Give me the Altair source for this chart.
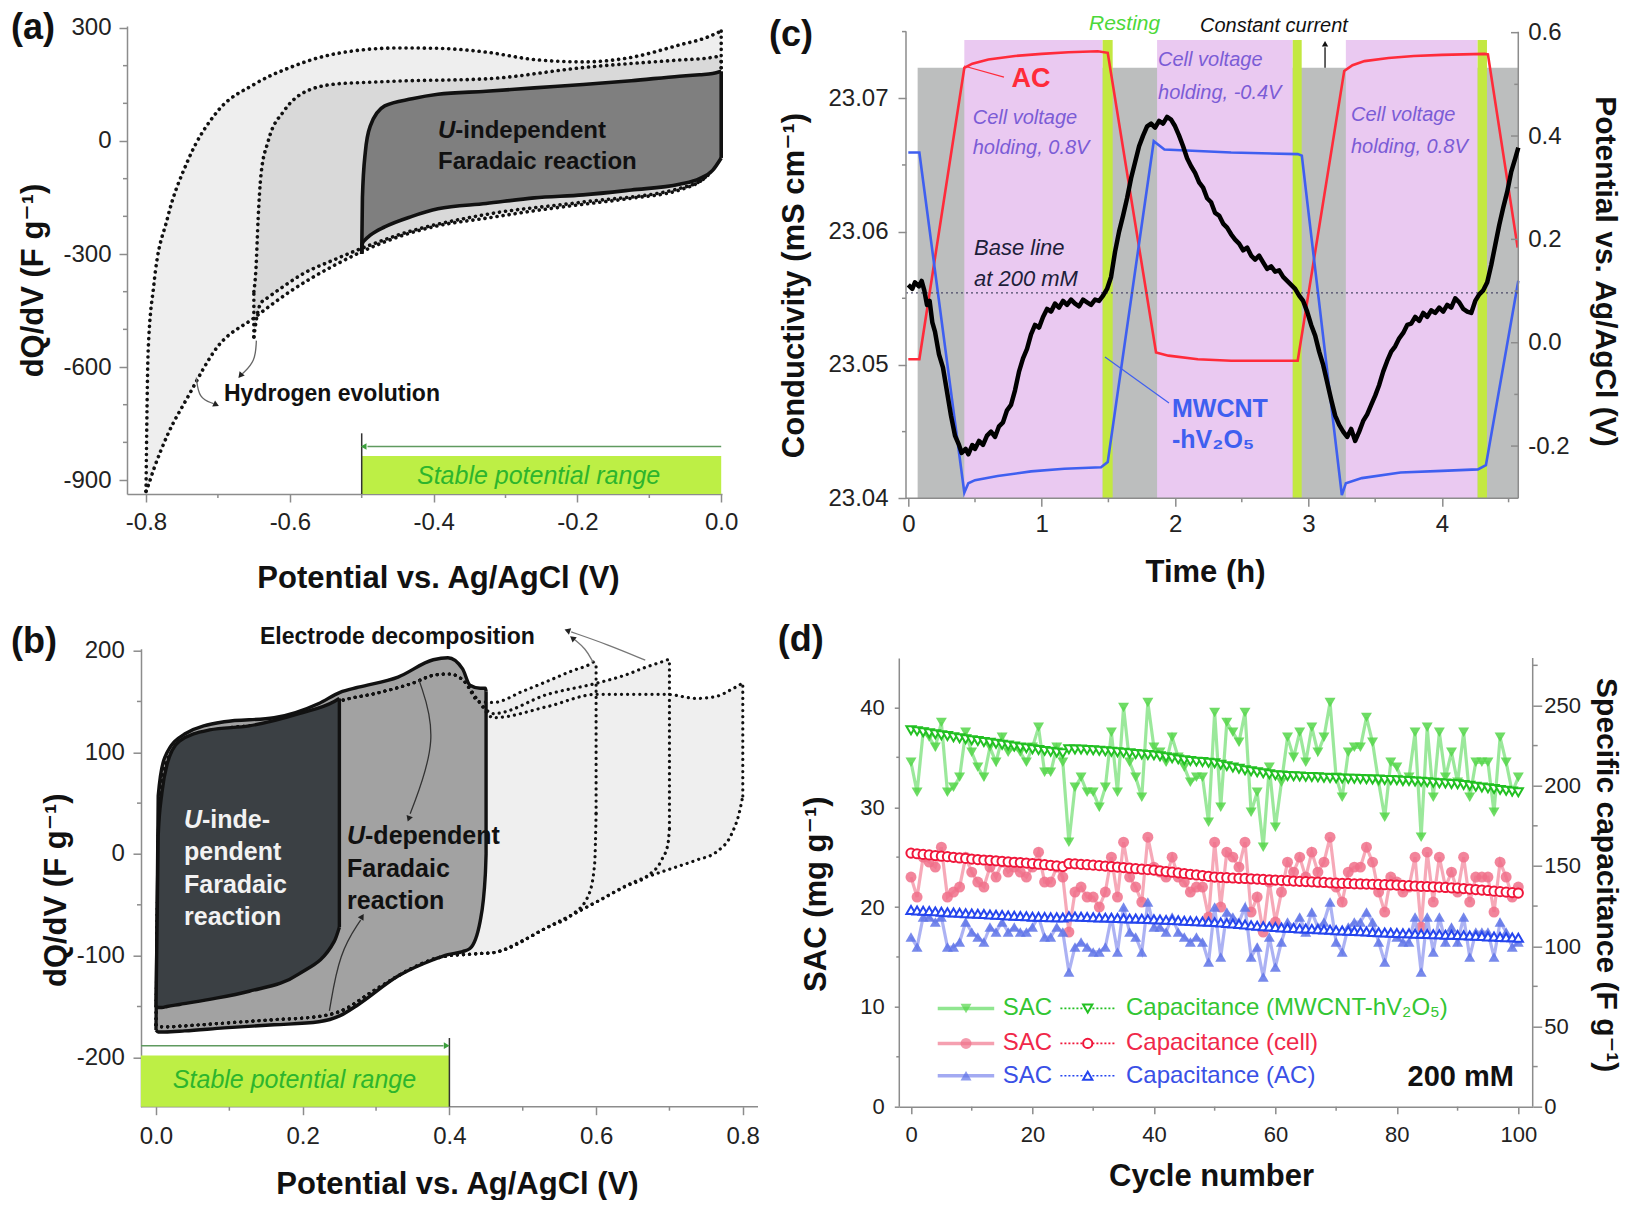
import altair as alt
import pandas as pd

FONT = "Liberation Sans, DejaVu Sans, sans-serif"
AXC = "#8c8c8c"

# ======================= data: panel (a) =======================
a1_x = [-0.800, -0.797, -0.789, -0.770, -0.742, -0.700, -0.650, -0.600, -0.538, -0.450, -0.394, -0.327, -0.259, -0.192, -0.125, -0.058, -0.020, 0.000]
a1_up = [-930, -557, -380, -204, -53, 80, 150, 195, 231, 247, 246, 236, 216, 210, 222, 255, 275, 292]
a1_lo = [-930, -915, -870, -780, -680, -545, -470, -400, -330, -255, -225, -205, -185, -168, -152, -130, -92, 0]

a2_x = [-0.650, -0.647, -0.644, -0.640, -0.630, -0.608, -0.584, -0.538, -0.500, -0.450, -0.327, -0.192, -0.058, -0.020, 0.000]
a2_up = [-400, -337, -204, -88, 0, 80, 125, 151, 155, 159, 165, 195, 215, 220, 226]
a2_lo = [-520, -480, -450, -430, -415, -385, -355, -315, -285, -250, -195, -162, -126, -94, 0]

a3_x = [-0.500, -0.499, -0.495, -0.488, -0.468, -0.430, -0.394, -0.327, -0.260, -0.192, -0.125, -0.058, -0.030, -0.012, 0.000]
a3_up = [-300, -150, -30, 40, 93, 112, 124, 132, 141, 150, 160, 172, 176, 179, 185]
a3_lo = [-300, -272, -262, -250, -228, -200, -180, -166, -151, -143, -130, -115, -100, -78, -45]

# ======================= data: panel (b) =======================
bL_x = [0.000, 0.005, 0.015, 0.040, 0.100, 0.160, 0.220, 0.250, 0.300, 0.350, 0.380, 0.400, 0.420, 0.440]
bL_up = [-168, 60, 92, 112, 124, 128, 140, 150, 158, 168, 176, 177, 170, 150]
bL_lo = [-168, -170, -170, -169, -166, -163, -160, -155, -133, -112, -103, -100, -99, -98]

b6_x = [0.460, 0.500, 0.534, 0.567, 0.590, 0.598, 0.600]
b6_up = [149, 160, 170, 180, 186, 189, 189]
b6_lo = [-97, -85, -72, -60, -40, -10, 40]

b7_x = [0.460, 0.534, 0.601, 0.640, 0.669, 0.690, 0.698, 0.700]
b7_up = [138, 157, 168, 176, 184, 189, 191, 191]
b7_lo = [-97, -72, -47, -32, -22, -5, 10, 25]

b8_x = [0.460, 0.534, 0.601, 0.650, 0.696, 0.737, 0.764, 0.785, 0.795, 0.800]
b8_up = [134, 145, 157, 157, 157, 153, 155, 162, 166, 168]
b8_lo = [-97, -72, -47, -28, -16, -6, 2, 20, 40, 57]

bm_x = [0.000, 0.003, 0.012, 0.039, 0.093, 0.161, 0.222, 0.251, 0.276, 0.330, 0.378, 0.398, 0.418, 0.428, 0.442, 0.449, 0.450]
bm_up = [-173, 57, 95, 118, 130, 134, 148, 159, 164, 174, 191, 193, 182, 166, 163, 163, 160]
bm_lo = [-173, -175, -175, -174, -171, -168, -165, -159, -148, -120, -104, -99, -96, -93, -66, -20, 0]

bd_x = [0.000, 0.003, 0.008, 0.015, 0.032, 0.073, 0.127, 0.195, 0.243, 0.250]
bd_up = [-150, 18, 60, 88, 111, 122, 126, 138, 150, 153]
bd_lo = [-150, -151, -151, -150, -148, -143, -135, -118, -86, -72]

# ======================= data: panel (c) =======================
c_black_t = [0.00, 0.03, 0.05, 0.08, 0.10, 0.12, 0.14, 0.16, 0.18, 0.20, 0.23, 0.26, 0.29, 0.32, 0.35, 0.38, 0.40, 0.43, 0.45, 0.48,
             0.50, 0.53, 0.56, 0.59, 0.62, 0.65, 0.68, 0.71, 0.74, 0.77, 0.80, 0.83, 0.86, 0.89, 0.92, 0.95, 0.98, 1.01, 1.04, 1.07,
             1.10, 1.13, 1.16, 1.19, 1.22, 1.25, 1.28, 1.31, 1.34, 1.37, 1.40, 1.43, 1.46, 1.49, 1.52, 1.55, 1.58, 1.61, 1.64, 1.67,
             1.70, 1.73, 1.76, 1.79, 1.82, 1.85, 1.88, 1.91, 1.94, 1.97, 2.00, 2.03, 2.06, 2.09, 2.12, 2.15, 2.18, 2.21, 2.24, 2.27,
             2.30, 2.33, 2.36, 2.39, 2.42, 2.45, 2.48, 2.51, 2.54, 2.57, 2.60, 2.63, 2.66, 2.69, 2.72, 2.75, 2.78, 2.81, 2.84, 2.87,
             2.90, 2.93, 2.96, 2.99, 3.02, 3.05, 3.08, 3.11, 3.14, 3.17, 3.20, 3.23, 3.26, 3.29, 3.32, 3.35, 3.38, 3.41, 3.44, 3.47,
             3.50, 3.53, 3.56, 3.59, 3.62, 3.65, 3.68, 3.71, 3.74, 3.77, 3.80, 3.83, 3.86, 3.89, 3.92, 3.95, 3.98, 4.01, 4.04, 4.07,
             4.10, 4.13, 4.16, 4.19, 4.22, 4.25, 4.28, 4.31, 4.34, 4.37, 4.40, 4.43, 4.46, 4.49, 4.52, 4.55, 4.573]
c_black_k = [23.0560, 23.0557, 23.0562, 23.0559, 23.0563, 23.0556, 23.0545, 23.0548, 23.0532, 23.0525, 23.0508, 23.0498, 23.0480, 23.0462, 23.0447, 23.0440, 23.0434, 23.0437, 23.0433, 23.0440,
             23.0437, 23.0443, 23.0440, 23.0447, 23.0450, 23.0446, 23.0454, 23.0457, 23.0466, 23.0470, 23.0481, 23.0495, 23.0505, 23.0512, 23.0523, 23.0530, 23.0528, 23.0536, 23.0542, 23.0540,
             23.0546, 23.0543, 23.0548, 23.0545, 23.0549, 23.0546, 23.0544, 23.0549, 23.0547, 23.0545, 23.0549, 23.0548, 23.0552, 23.0557, 23.0566, 23.0585, 23.0600, 23.0612, 23.0625, 23.0640,
             23.0652, 23.0664, 23.0672, 23.0679, 23.0681, 23.0678, 23.0683, 23.0681, 23.0686, 23.0684, 23.0679, 23.0672, 23.0664, 23.0655, 23.0649, 23.0644, 23.0637, 23.0633, 23.0625, 23.0622,
             23.0614, 23.0612, 23.0606, 23.0603, 23.0598, 23.0594, 23.0591, 23.0586, 23.0588, 23.0582, 23.0579, 23.0582, 23.0577, 23.0572, 23.0574, 23.0570, 23.0571, 23.0566, 23.0563, 23.0560,
             23.0557, 23.0552, 23.0548, 23.0540, 23.0530, 23.0522, 23.0510, 23.0500, 23.0487, 23.0474, 23.0462, 23.0455, 23.0450, 23.0446, 23.0452, 23.0443, 23.0450, 23.0458, 23.0463, 23.0470,
             23.0477, 23.0485, 23.0495, 23.0503, 23.0510, 23.0514, 23.0520, 23.0524, 23.0530, 23.0531, 23.0536, 23.0533, 23.0539, 23.0536, 23.0541, 23.0539, 23.0543, 23.0540, 23.0545, 23.0543,
             23.0550, 23.0547, 23.0542, 23.0540, 23.0539, 23.0548, 23.0553, 23.0556, 23.0562, 23.0575, 23.0590, 23.0605, 23.0618, 23.0630, 23.0645, 23.0655, 23.0663]

c_red_t = [0.000, 0.083, 0.420, 0.480, 0.600, 0.800, 1.000, 1.200, 1.420, 1.495, 1.857, 1.950, 2.170, 2.420, 2.919, 3.268, 3.330, 3.420, 3.600, 3.790, 4.000, 4.320, 4.345, 4.568]
c_red_v = [-0.032, -0.032, 0.532, 0.540, 0.548, 0.555, 0.559, 0.562, 0.564, 0.561, -0.019, -0.025, -0.032, -0.035, -0.035, 0.526, 0.537, 0.545, 0.551, 0.555, 0.557, 0.559, 0.558, 0.184]

c_blue_t = [0.000, 0.083, 0.420, 0.450, 0.500, 0.670, 0.920, 1.170, 1.445, 1.495, 1.840, 1.920, 2.170, 2.420, 2.920, 2.950, 3.250, 3.280, 3.400, 3.690, 4.000, 4.270, 4.330, 4.573]
c_blue_v = [0.368, 0.368, -0.290, -0.272, -0.266, -0.258, -0.249, -0.244, -0.241, -0.231, 0.390, 0.374, 0.371, 0.368, 0.365, 0.362, -0.295, -0.272, -0.262, -0.251, -0.248, -0.245, -0.237, 0.120]

c_current_start = 0.07
c_hold_start = [0.420, 1.865, 3.280]
c_hold_end = [1.457, 2.882, 4.268]
c_rest_end = [1.532, 2.949, 4.338]
c_baseline = 23.0554

# ======================= data: panel (d) =======================
cycles = list(range(101))
sac_green = [34.5, 31.5, 37.5, 37, 36, 38.5, 31.5, 32, 33, 37.5,
             35.5, 34, 33, 36, 34.5, 37, 35.5, 36, 35.5, 34.5,
             36, 38, 33.5, 33.5, 36, 34.5, 26.5, 32, 33, 31.5,
             31.5, 30, 32, 37.5, 31.5, 40, 34.5, 33, 31, 40.5,
             36, 35.5, 34.5, 37, 35, 34, 32.5, 33, 33, 28.5,
             39.5, 30, 38.5, 37.5, 36.5, 39.5, 29.5, 31.5, 26, 34,
             28, 32.5, 37, 35, 37.5, 34.5, 38, 35.5, 37, 40.5,
             33, 31, 35.5, 36, 36, 39, 36.5, 32.5, 29, 34.5,
             34, 32.5, 33, 37.5, 27, 38, 31, 37.5, 33, 35.5,
             32.5, 37.5, 31, 34.5, 34.5, 34.5, 29.5, 37, 34.5, 31.5, 33]
sac_red = [23, 21, 25, 24.5, 24, 26, 21, 21.5, 22, 25,
           23.5, 22.5, 22, 24, 23, 24.5, 23.5, 24, 23.5, 23,
           24, 25.5, 22.5, 22.5, 24, 23, 17.5, 21.5, 22, 21,
           21, 20, 21.5, 25, 21, 26.5, 23, 22, 20.5, 27,
           24, 23.5, 23, 25, 23, 22.5, 21.5, 22, 22, 19,
           26.5, 20, 25.5, 25, 24, 26.5, 19.5, 21, 17.5, 22.5,
           18.5, 21.5, 24.5, 23.5, 25, 23, 25.5, 23.5, 24.5, 27,
           22, 20.5, 23.5, 24, 24, 26, 24.5, 21.5, 19.5, 23,
           22.5, 21.5, 22, 25, 18, 25.5, 20.5, 25, 22, 23.5,
           21.5, 25, 20.5, 23, 23, 23, 19.5, 24.5, 23, 21, 22]
sac_blue = [17, 16, 19, 19, 18.5, 19, 16, 16, 16.5, 18.5,
            17.5, 17, 16.5, 18, 17.5, 18.5, 17.5, 18, 17.5, 17.5,
            18, 19, 17, 17, 18, 17.5, 13.5, 16, 16.5, 16,
            15.5, 15.5, 16, 19, 15.5, 20, 17.5, 17, 15.5, 20.5,
            18, 18, 17.5, 19, 17.5, 17, 16.5, 17, 16.5, 14.5,
            20, 15, 19.5, 19, 18.5, 20, 15, 16, 13, 17,
            14, 16.5, 18.5, 18, 19, 17.5, 19.5, 18, 18.5, 20.5,
            16.5, 15.5, 18, 18.5, 18.5, 19.5, 18.5, 16.5, 14.5, 17.5,
            17, 16.5, 16.5, 19, 13.5, 19, 15.5, 19, 16.5, 18,
            16.5, 19, 15, 17.5, 17.5, 17.5, 15, 18.5, 17.5, 16, 16.5]
cap_green = [234.5, 234.0, 233.3, 232.7, 232.1, 231.5, 230.9, 230.2, 229.6, 229.0,
             228.3, 227.8, 227.2, 226.7, 226.1, 225.5, 225.0, 224.4, 223.8, 223.3,
             222.7, 222.2, 221.7, 221.2, 220.7, 220.2, 222.7, 222.6, 222.5, 222.3,
             222.1, 221.8, 221.5, 221.1, 220.8, 220.5, 220.2, 219.8, 219.5, 219.2,
             218.9, 218.3, 217.7, 217.1, 216.4, 215.8, 215.4, 215.0, 214.7, 214.3,
             214.0, 213.1, 212.2, 211.4, 210.5, 209.6, 209.0, 208.4, 207.7, 207.1,
             206.5, 206.3, 206.1, 205.9, 205.7, 205.5, 205.4, 205.2, 205.0, 204.8,
             204.6, 204.5, 204.4, 204.3, 204.2, 204.0, 203.9, 203.8, 203.6, 203.5,
             203.4, 203.1, 202.9, 202.6, 202.4, 202.1, 201.9, 201.6, 201.4, 201.1,
             200.9, 200.4, 199.9, 199.4, 198.9, 198.4, 197.9, 197.4, 196.9, 196.4, 195.9]
cap_red = [158.0, 157.6, 157.2, 156.9, 156.5, 156.1, 155.8, 155.4, 155.0, 154.7,
           154.3, 154.0, 153.7, 153.5, 153.2, 152.9, 152.6, 152.3, 152.1, 151.8,
           151.5, 151.1, 150.8, 150.4, 150.0, 149.6, 151.5, 151.3, 151.0, 150.8,
           150.5, 150.2, 149.9, 149.6, 149.3, 149.0, 148.6, 148.3, 148.0, 147.7,
           147.4, 147.0, 146.5, 146.1, 145.7, 145.3, 144.8, 144.4, 144.0, 143.5,
           143.1, 142.9, 142.7, 142.5, 142.3, 142.2, 142.0, 141.8, 141.6, 141.4,
           141.2, 141.0, 140.8, 140.6, 140.4, 140.3, 140.1, 139.9, 139.7, 139.5,
           139.3, 139.2, 139.1, 138.9, 138.8, 138.7, 138.6, 138.5, 138.3, 138.2,
           138.1, 137.9, 137.7, 137.5, 137.3, 137.2, 137.0, 136.8, 136.6, 136.4,
           136.2, 135.9, 135.6, 135.3, 135.0, 134.7, 134.3, 134.0, 133.7, 133.4, 133.1]
cap_blue = [122.5, 122.3, 122.1, 121.9, 121.7, 121.5, 121.2, 121.0, 120.8, 120.6,
            120.4, 120.2, 120.0, 119.8, 119.6, 119.4, 119.2, 119.0, 118.8, 118.6,
            118.4, 118.3, 118.2, 118.1, 118.0, 117.9, 118.6, 118.5, 118.3, 118.2,
            118.0, 117.9, 117.8, 117.7, 117.6, 117.4, 117.3, 117.2, 117.1, 116.9,
            116.8, 116.6, 116.4, 116.3, 116.1, 115.9, 115.7, 115.5, 115.4, 115.2,
            115.0, 114.7, 114.4, 114.1, 113.8, 113.5, 113.1, 112.8, 112.5, 112.2,
            111.9, 111.7, 111.5, 111.3, 111.1, 111.0, 110.8, 110.6, 110.4, 110.2,
            110.0, 109.8, 109.6, 109.5, 109.3, 109.1, 108.9, 108.7, 108.6, 108.4,
            108.2, 108.1, 108.0, 107.8, 107.7, 107.6, 107.5, 107.4, 107.2, 107.1,
            107.0, 106.8, 106.6, 106.5, 106.3, 106.1, 106.0, 105.8, 105.6, 105.5, 105.3]


# ======================= helpers =======================
def sc(d):
    return alt.Scale(domain=d, nice=False, zero=False)


def mk_axis(values, fmt, title, tx, ty, tangle=0, orient=None, offset=0,
            tsize_tick=8, lpad=8, lsize=24, tsize=31, domain=True, ticks=True):
    kw = dict(values=values, format=fmt, labelExpr="replace(datum.label, '\u2212', '-')",
              labelFont=FONT, labelFontSize=lsize,
              labelColor="#222222", labelPadding=lpad, labelOverlap=False, labelFlush=False,
              title=title, titleX=tx, titleY=ty, titleAngle=tangle, titleAlign="center",
              titleBaseline="middle", titleFont=FONT, titleFontSize=tsize, titleFontWeight="bold",
              titleColor="#111111", grid=False, domain=domain, domainColor=AXC, domainWidth=1.5,
              ticks=ticks, tickColor=AXC, tickWidth=1.5)
    if offset:
        kw["offset"] = offset
    if ticks:
        kw["tickSize"] = tsize_tick
    if orient:
        kw["orient"] = orient
    return alt.Axis(**kw)


# every layer of a panel carries the same scale and the same axis definition
def XQ(f, xs):
    return alt.X(f, scale=xs["scale"], axis=xs["axis"])


def YQ(f, ys):
    return alt.Y(f, scale=ys["scale"], axis=ys["axis"])


def text(x, y, s, xs, ys, **mk):
    d = pd.DataFrame({"x": [x], "y": [y], "t": [s]})
    return alt.Chart(d).mark_text(font=FONT, **mk).encode(
        x=XQ("x:Q", xs), y=YQ("y:Q", ys), text="t:N")


def path(xv, yv, xs, ys, **mk):
    d = pd.DataFrame({"x": xv, "y": yv, "i": list(range(len(xv)))})
    return alt.Chart(d).mark_line(**mk).encode(x=XQ("x:Q", xs), y=YQ("y:Q", ys), order="i:Q")


def seg(x1, y1, x2, y2, xs, ys, **mk):
    d = pd.DataFrame({"x": [x1], "y": [y1], "x2": [x2], "y2": [y2]})
    return alt.Chart(d).mark_rule(**mk).encode(x=XQ("x:Q", xs), y=YQ("y:Q", ys), x2="x2:Q", y2="y2:Q")


def segs(x1, y1, x2, y2, xs, ys, **mk):
    d = pd.DataFrame({"x": x1, "y": y1, "x2": x2, "y2": y2})
    return alt.Chart(d).mark_rule(**mk).encode(x=XQ("x:Q", xs), y=YQ("y:Q", ys), x2="x2:Q", y2="y2:Q")


def minor_x(vals, y0, y1, xs, ys):
    return segs(vals, [y0] * len(vals), vals, [y1] * len(vals), xs, ys, color=AXC, strokeWidth=1.5)


def minor_y(vals, x0, x1, xs, ys):
    return segs([x0] * len(vals), vals, [x1] * len(vals), vals, xs, ys, color=AXC, strokeWidth=1.5)


def box(x1, x2, y1, y2, xs, ys, **mk):
    d = pd.DataFrame({"x": x1, "x2": x2, "y": y1, "y2": y2})
    return alt.Chart(d).mark_rect(**mk).encode(x=XQ("x:Q", xs), x2="x2:Q", y=YQ("y:Q", ys), y2="y2:Q")


def head(x, y, angle, xs, ys, color, size=60):
    d = pd.DataFrame({"x": [x], "y": [y]})
    return alt.Chart(d).mark_point(shape="triangle", filled=True, size=size, color=color,
                                   angle=angle, opacity=1).encode(x=XQ("x:Q", xs), y=YQ("y:Q", ys))


DOT = [0.1, 6.0]


def loop(xv, up, lo, xs, ys, fill=None, sw=3.0, dotted=False, border=True):
    d = pd.DataFrame({"x": xv, "up": up, "lo": lo})
    out = []
    if fill:
        out.append(alt.Chart(d).mark_area(color=fill, interpolate="monotone", opacity=1).encode(
            x=XQ("x:Q", xs), y=YQ("up:Q", ys), y2="lo:Q"))
    if border:
        st = dict(color="#111111", strokeWidth=sw, interpolate="monotone", strokeJoin="round")
        rs = dict(color="#111111", strokeWidth=sw)
        if dotted:
            st.update(strokeDash=DOT, strokeCap="round")
            rs.update(strokeDash=DOT, strokeCap="round")
        for col in ("up", "lo"):
            out.append(alt.Chart(d).mark_line(**st).encode(x=XQ("x:Q", xs), y=YQ(f"{col}:Q", ys)))
        out.append(seg(xv[-1], lo[-1], xv[-1], up[-1], xs, ys, **rs))
        if up[0] != lo[0]:
            out.append(seg(xv[0], lo[0], xv[0], up[0], xs, ys, **rs))
    return out


LIME = "#bdef45"
STABLE_TXT = "#2db52d"

# ======================= panel (a) =======================
A_XD, A_YD = [-0.82643, 0.00111], [-937.08, 305.28]
XA = {"scale": sc(A_XD),
      "axis": mk_axis([-0.8, -0.6, -0.4, -0.2, 0.0], ".1f", "Potential vs. Ag/AgCl (V)", 311, 84)}
YA = {"scale": sc(A_YD),
      "axis": mk_axis([-900, -600, -300, 0, 300], "d", "dQ/dV (F g\u207b\u00b9)", -94, 254, tangle=270)}

pa_layers = [seg(-0.99054, 350.4, -0.9895, 350.4, XA, YA, color="white", strokeWidth=0.5),
             minor_x([-0.7, -0.5, -0.3, -0.1], -937.08, -947.7, XA, YA),
             minor_y([-800, -700, -500, -400, -200, -100, 100, 200], -0.82643, -0.83199, XA, YA)]
pa_layers += loop(a1_x, a1_up, a1_lo, XA, YA, fill="#eeeeee", border=False)
pa_layers += loop(a2_x, a2_up, a2_lo, XA, YA, fill="#d9d9d9", border=False)
pa_layers += loop(a1_x, a1_up, a1_lo, XA, YA, dotted=True, sw=3.6)
pa_layers += loop(a2_x, a2_up, a2_lo, XA, YA, dotted=True, sw=3.6)
pa_layers += loop(a3_x, a3_up, a3_lo, XA, YA, fill="#7f7f7f", sw=3.6)
pa_layers += [
    box([-0.5], [0.0], [-937.08], [-836], XA, YA, color=LIME),
    seg(-0.5, -776, -0.5, -937.08, XA, YA, color="#333333", strokeWidth=1.5),
    seg(0.0, -811, -0.492, -811, XA, YA, color="#5f9a5f", strokeWidth=1.5),
    head(-0.496, -811, 270, XA, YA, "#3ca03c", size=45),
    text(-0.254, -889, "Stable potential range", XA, YA, align="center", baseline="middle",
         fontSize=25, fontStyle="italic", color=STABLE_TXT),
    text(-0.3939, 26.5, "U", XA, YA, align="left", baseline="middle", fontSize=24,
         fontWeight="bold", fontStyle="italic", color="#111111"),
    text(-0.3698, 26.5, "-independent", XA, YA, align="left", baseline="middle", fontSize=24,
         fontWeight="bold", color="#111111"),
    text(-0.3939, -55.7, "Faradaic reaction", XA, YA, align="left", baseline="middle", fontSize=24,
         fontWeight="bold", color="#111111"),
    text(-0.6915, -671.6, "Hydrogen evolution", XA, YA, align="left", baseline="middle", fontSize=23,
         fontWeight="bold", color="#111111"),
    path([-0.6465, -0.648, -0.666], [-530, -585, -618], XA, YA, color="#666666", strokeWidth=1.3,
         interpolate="basis"),
    head(-0.668, -621, 220, XA, YA, "#222222", size=45),
    path([-0.730, -0.7265, -0.706], [-628, -684, -697], XA, YA, color="#666666", strokeWidth=1.3,
         interpolate="basis"),
    head(-0.7035, -699, 115, XA, YA, "#222222", size=45),
    text(-0.98776, 345.1, "(a)", XA, YA, align="left", baseline="top", fontSize=36,
         fontWeight="bold", color="#111111"),
]
panel_a = alt.layer(*pa_layers).properties(width=595, height=468)

# ======================= panel (b) =======================
B_XD, B_YD = [-0.03954, 0.82073], [-248.53, 201.87]
XB = {"scale": sc(B_XD),
      "axis": mk_axis([0.0, 0.2, 0.4, 0.6, 0.8], ".1f", "Potential vs. Ag/AgCl (V)", 330, 78,
                      domain=False, lpad=10)}
YB = {"scale": sc(B_YD),
      "axis": mk_axis([-200, -100, 0, 100, 200], "d", "dQ/dV (F g\u207b\u00b9)", -85, 241, tangle=270,
                      offset=-14, lpad=8.7)}

b8 = (bL_x + b8_x, bL_up + b8_up, bL_lo + b8_lo)
b7 = (bL_x + b7_x, bL_up + b7_up, bL_lo + b7_lo)
b6 = (bL_x + b6_x, bL_up + b6_up, bL_lo + b6_lo)

pb_layers = [minor_x([0.1, 0.3, 0.5, 0.7], -248.53, -252.46, XB, YB),
             minor_y([-150, -50, 50, 150], -0.0205, -0.02595, XB, YB)]
for lp in (b8, b7, b6):
    pb_layers += loop(*lp, XB, YB, fill="#efefef", border=False)
pb_layers += loop(bm_x, bm_up, bm_lo, XB, YB, fill="#a2a2a2", border=False)
for lp in (b8, b7, b6):
    pb_layers += loop(*lp, XB, YB, dotted=True, sw=3.2)
pb_layers += loop(bm_x, bm_up, bm_lo, XB, YB, sw=3.4)
pb_layers += loop(bd_x, bd_up, bd_lo, XB, YB, fill="#3b4044", sw=3.4)
pb_layers += [
    seg(-0.0205, -248.53, 0.82073, -248.53, XB, YB, color=AXC, strokeWidth=1.5),
    box([-0.0205], [0.4], [-248.53], [-198.3], XB, YB, color=LIME),
    seg(0.4, -181, 0.4, -248.53, XB, YB, color="#333333", strokeWidth=1.5),
    seg(-0.0205, -188.5, 0.392, -188.5, XB, YB, color="#5f9a5f", strokeWidth=1.5),
    head(0.395, -188.5, 90, XB, YB, "#3ca03c", size=45),
    text(0.1888, -222, "Stable potential range", XB, YB, align="center", baseline="middle",
         fontSize=25, fontStyle="italic", color=STABLE_TXT),
    text(0.1418, 213.7, "Electrode decomposition", XB, YB, align="left", baseline="middle",
         fontSize=23, fontWeight="bold", color="#111111"),
    path([0.5958, 0.5857, 0.5700], [188.7, 202, 211.2], XB, YB, color="#777777", strokeWidth=1.3,
         interpolate="basis"),
    head(0.5687, 211.7, 308, XB, YB, "#222222", size=45),
    path([0.667, 0.616, 0.566], [190.6, 205.9, 218.4], XB, YB, color="#777777", strokeWidth=1.3,
         interpolate="basis"),
    head(0.562, 219.4, 289, XB, YB, "#222222", size=45),
    path([0.3584, 0.3855, 0.3465], [171.4, 114, 39.5], XB, YB, color="#333333", strokeWidth=1.3,
         interpolate="basis"),
    head(0.345, 35.4, 200, XB, YB, "#222222", size=45),
    path([0.2364, 0.25, 0.2790], [-154.3, -96.8, -65], XB, YB, color="#333333", strokeWidth=1.3,
         interpolate="basis"),
    head(0.2804, -62.3, 32, XB, YB, "#222222", size=45),
    text(0.0382, 33.7, "U", XB, YB, align="left", baseline="middle", fontSize=25, fontWeight="bold",
         fontStyle="italic", color="#f2f2f2"),
    text(0.0627, 33.7, "-inde-", XB, YB, align="left", baseline="middle", fontSize=25,
         fontWeight="bold", color="#f2f2f2"),
    text(0.0382, 2.3, "pendent", XB, YB, align="left", baseline="middle", fontSize=25,
         fontWeight="bold", color="#f2f2f2"),
    text(0.0382, -30.2, "Faradaic", XB, YB, align="left", baseline="middle", fontSize=25,
         fontWeight="bold", color="#f2f2f2"),
    text(0.0382, -61.7, "reaction", XB, YB, align="left", baseline="middle", fontSize=25,
         fontWeight="bold", color="#f2f2f2"),
    text(0.2604, 18.0, "U", XB, YB, align="left", baseline="middle", fontSize=25, fontWeight="bold",
         fontStyle="italic", color="#111111"),
    text(0.2850, 18.0, "-dependent", XB, YB, align="left", baseline="middle", fontSize=25,
         fontWeight="bold", color="#111111"),
    text(0.2604, -14.5, "Faradaic", XB, YB, align="left", baseline="middle", fontSize=25,
         fontWeight="bold", color="#111111"),
    text(0.2604, -46.7, "reaction", XB, YB, align="left", baseline="middle", fontSize=25,
         fontWeight="bold", color="#111111"),
    text(-0.1977, 225, "(b)", XB, YB, align="left", baseline="top", fontSize=36,
         fontWeight="bold", color="#111111"),
]
panel_b = alt.layer(*pb_layers).properties(width=631, height=458)

# ======================= panel (c) =======================
C_XD, C_YL, C_YR = [-0.06747, 4.5728], [23.04, 23.07542], [-0.30104, 0.61291]
XC = {"scale": sc(C_XD),
      "axis": mk_axis([0, 1, 2, 3, 4], "d", "Time (h)", 305.7, 73.7, domain=False, lpad=6)}
YCL = {"scale": sc(C_YL),
       "axis": mk_axis([23.04, 23.05, 23.06, 23.07], ".2f", "Conductivity (mS cm\u207b\u00b9)", -112, 259,
                       tangle=270, orient="left", offset=-6.7, lpad=10, domain=False)}
YCR = {"scale": sc(C_YR),
       "axis": mk_axis([-0.2, 0.0, 0.2, 0.4, 0.6], ".1f", "Potential vs. Ag/AgCl (V)", 86, 245,
                       tangle=90, orient="right", lpad=9.4, domain=False, ticks=False, tsize=30)}

PURP = "#7b5cd6"
RED = "#ff2b3a"
BLUE = "#3f5ff0"
R_END = 4.5727
tick_maj = [-0.2, 0.0, 0.2, 0.4, 0.6]
tick_min = [-0.1, 0.1, 0.3, 0.5]

pc_right = [box([c_current_start], [R_END], [-0.301], [0.532], XC, YCR, color="#bcbebe"),
            box(c_hold_start, c_hold_end, [-0.301] * 3, [0.586] * 3, XC, YCR, color="#eac9f1"),
            box(c_hold_end, c_rest_end, [-0.301] * 3, [0.586] * 3, XC, YCR, color="#c3e841"),
            path(c_red_t, c_red_v, XC, YCR, color=RED, strokeWidth=2.6),
            path(c_blue_t, c_blue_v, XC, YCR, color=BLUE, strokeWidth=2.6),
            path([0.4175, 0.717], [0.5355, 0.514], XC, YCR, color=RED, strokeWidth=1.2),
            path([1.4745, 1.9543], [-0.0275, -0.1166], XC, YCR, color=BLUE, strokeWidth=1.2),
            text(0.92, 0.5103, "AC", XC, YCR, align="center", baseline="middle", fontSize=27,
                 fontWeight="bold", color=RED),
            text(1.9768, -0.1283, "MWCNT", XC, YCR, align="left", baseline="middle", fontSize=25,
                 fontWeight="bold", color=BLUE),
            text(1.9768, -0.1877, "-hV\u2082O\u2085", XC, YCR, align="left", baseline="middle",
                 fontSize=25, fontWeight="bold", color=BLUE),
            text(0.4828, 0.4355, "Cell voltage", XC, YCR, align="left", baseline="middle",
                 fontSize=20, fontStyle="italic", color=PURP),
            text(0.4828, 0.3774, "holding, 0.8V", XC, YCR, align="left", baseline="middle",
                 fontSize=20, fontStyle="italic", color=PURP),
            text(1.872, 0.5464, "Cell voltage", XC, YCR, align="left", baseline="middle",
                 fontSize=20, fontStyle="italic", color=PURP),
            text(1.872, 0.4833, "holding, -0.4V", XC, YCR, align="left", baseline="middle",
                 fontSize=20, fontStyle="italic", color=PURP),
            text(3.3186, 0.4407, "Cell voltage", XC, YCR, align="left", baseline="middle",
                 fontSize=20, fontStyle="italic", color=PURP),
            text(3.3186, 0.3787, "holding, 0.8V", XC, YCR, align="left", baseline="middle",
                 fontSize=20, fontStyle="italic", color=PURP),
            text(1.3546, 0.6168, "Resting", XC, YCR, align="left", baseline="middle",
                 fontSize=21, fontStyle="italic", color="#4cd83a"),
            text(2.1867, 0.6129, "Constant current", XC, YCR, align="left", baseline="middle",
                 fontSize=20, fontStyle="italic", color="#111111"),
            seg(3.124, 0.532, 3.124, 0.572, XC, YCR, color="#111111", strokeWidth=1.3),
            head(3.124, 0.577, 0, XC, YCR, "#111111", size=40),
            text(0.4925, 0.1839, "Base line", XC, YCR, align="left", baseline="middle",
                 fontSize=22, fontStyle="italic", color="#1e1e3a"),
            text(0.4925, 0.1227, "at 200 mM", XC, YCR, align="left", baseline="middle",
                 fontSize=22, fontStyle="italic", color="#1e1e3a"),
            text(-1.044, 0.6284, "(c)", XC, YCR, align="left", baseline="top", fontSize=36,
                 fontWeight="bold", color="#111111"),
            seg(R_END, -0.301, R_END, 0.602, XC, YCR, color=AXC, strokeWidth=1.5),
            minor_y(tick_maj, R_END - 0.0547, R_END, XC, YCR),
            minor_y(tick_min, R_END - 0.03, R_END, XC, YCR),
            ]

pc_left = [seg(-0.0173, c_baseline, R_END, c_baseline, XC, YCL, color="#4a4a66", strokeWidth=1.3,
               strokeDash=[2, 3]),
           alt.Chart(pd.DataFrame({"t": c_black_t, "k": c_black_k})).mark_line(
               color="#000000", strokeWidth=4.5, strokeJoin="round").encode(
               x=XQ("t:Q", XC), y=YQ("k:Q", YCL)),
           seg(-0.0173, 23.04, -0.0173, 23.07502, XC, YCL, color=AXC, strokeWidth=1.5),
           seg(-0.0173, 23.04, R_END, 23.04, XC, YCL, color=AXC, strokeWidth=1.5),
           minor_x([0.5, 1.5, 2.5, 3.5, 4.5], 23.04, 23.0397, XC, YCL),
           minor_y([23.045, 23.055, 23.065, 23.075], -0.0173, -0.0473, XC, YCL),
           ]
panel_c = alt.layer(alt.layer(*pc_right), alt.layer(*pc_left)).resolve_scale(
    y="independent").properties(width=619, height=472.3)

# ======================= panel (d) =======================
D_XD, D_YL, D_YR = [-1.927, 102.37], [0, 45.88], [0, 285.36]
XD = {"scale": sc(D_XD),
      "axis": mk_axis([0, 20, 40, 60, 80, 100], "d", "Cycle number", 311.7, 70, tsize_tick=7,
                      lpad=11, lsize=22)}
YDL = {"scale": sc(D_YL),
       "axis": mk_axis([0, 10, 20, 30, 40], "d", "SAC (mg g\u207b\u00b9)", -82.7, 245, tangle=270,
                       orient="left", tsize_tick=5, lpad=10, lsize=22, domain=False)}
YDR = {"scale": sc(D_YR),
       "axis": mk_axis([0, 50, 100, 150, 200, 250], "d", "Specific capacitance (F g\u207b\u00b9)", 73, 226,
                       tangle=90, orient="right", tsize_tick=9, lpad=2, lsize=22, domain=False, tsize=30)}

series = [
    (sac_green, cap_green, "triangle-down", "#90e690", "#55d64a", "#22c022", "#33c633",
     "Capacitance (MWCNT-hV\u2082O\u2085)", 9.847),
    (sac_red, cap_red, "circle", "#f5a0b0", "#f0708a", "#f0163a", "#f0284a",
     "Capacitance (cell)", 6.341),
    (sac_blue, cap_blue, "triangle-up", "#a3aaf2", "#5f74e8", "#2545ee", "#3a50e6",
     "Capacitance (AC)", 3.105),
]

pd_left = [minor_x([10, 30, 50, 70, 90], 0, -0.4, XD, YDL),
           minor_y([5, 15, 25, 35], -1.927, -2.421, XD, YDL)]
pd_right = [minor_y([25, 75, 125, 175, 225, 275], 102.37, 103.19, XD, YDR)]
for sac, cap, shape, lcol, mcol, ccol, tcol, lab, ly in series:
    dsac = pd.DataFrame({"c": cycles, "v": sac})
    pd_left.append(alt.Chart(dsac).mark_line(color=lcol, strokeWidth=3.2, opacity=0.9).encode(
        x=XQ("c:Q", XD), y=YQ("v:Q", YDL)))
    pd_left.append(alt.Chart(dsac).mark_point(shape=shape, filled=True, size=120, color=mcol,
                                              opacity=0.85).encode(x=XQ("c:Q", XD), y=YQ("v:Q", YDL)))
    dcap = pd.DataFrame({"c": cycles, "v": cap})
    pd_right.append(alt.Chart(dcap).mark_line(color=ccol, strokeWidth=1.2, strokeDash=[2, 2]).encode(
        x=XQ("c:Q", XD), y=YQ("v:Q", YDR)))
    pd_right.append(alt.Chart(dcap).mark_point(shape=shape, filled=False, fill="white", fillOpacity=1,
                                               stroke=ccol, strokeWidth=2.0, size=85, opacity=1).encode(
        x=XQ("c:Q", XD), y=YQ("v:Q", YDR)))
    pd_left += [
        seg(4.4, ly, 13.7, ly, XD, YDL, color=lcol, strokeWidth=3.5),
        alt.Chart(pd.DataFrame({"x": [9.06], "y": [ly]})).mark_point(
            shape=shape, filled=True, size=120, color=mcol).encode(x=XQ("x:Q", XD), y=YQ("y:Q", YDL)),
        text(15.1, ly, "SAC", XD, YDL, align="left", baseline="middle", fontSize=24, color=tcol),
        seg(24.6, ly, 33.8, ly, XD, YDL, color=ccol, strokeWidth=1.6, strokeDash=[2, 2]),
        alt.Chart(pd.DataFrame({"x": [29.1], "y": [ly]})).mark_point(
            shape=shape, filled=False, fill="white", fillOpacity=1, stroke=ccol, strokeWidth=2.0,
            size=85, opacity=1).encode(x=XQ("x:Q", XD), y=YQ("y:Q", YDL)),
        text(35.4, ly, lab, XD, YDL, align="left", baseline="middle", fontSize=24, color=tcol),
    ]
pd_left += [
    text(99.29, 3.005, "200 mM", XD, YDL, align="right", baseline="middle", fontSize=29,
         fontWeight="bold", color="#111111"),
    text(-21.95, 48.44, "(d)", XD, YDL, align="left", baseline="top", fontSize=36,
         fontWeight="bold", color="#111111"),
    seg(-1.927, 0, -1.927, 44.9, XD, YDL, color=AXC, strokeWidth=1.5),
]
pd_right.append(seg(102.37, 0, 102.37, 279.5, XD, YDR, color=AXC, strokeWidth=1.5))

panel_d = alt.layer(alt.layer(*pd_left), alt.layer(*pd_right)).resolve_scale(
    y="independent").properties(width=633.4, height=458)

chart = alt.concat(panel_a, panel_c, panel_b, panel_d, columns=2, bounds="flush",
                   spacing={"row": 149.7, "column": 141.3}).properties(
    padding=0).configure_view(strokeWidth=0)

chart.save("out.html", embed_options={"renderer": "svg", "actions": False})
